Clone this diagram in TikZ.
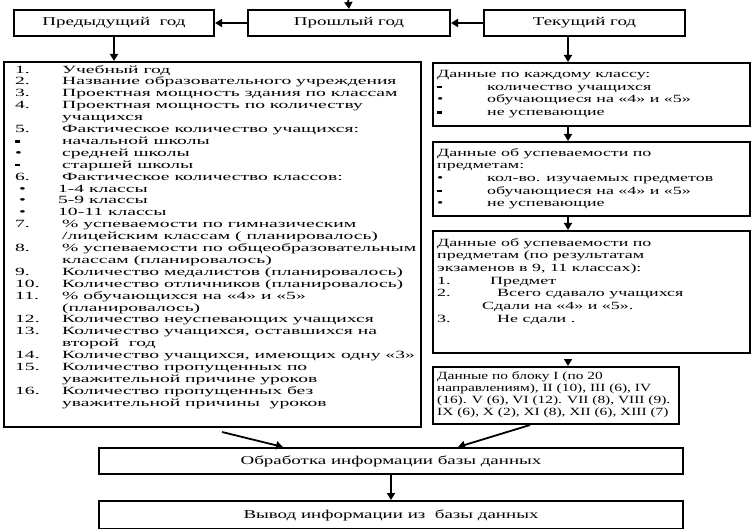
\documentclass[tikz,border=0pt]{standalone}
\usepackage{fontspec}
\setmainfont{Liberation Serif}[FakeStretch=1.58]
\newfontfamily\boxfnt{Liberation Serif}[FakeStretch=1.78]
\newfontfamily\rboxfnt{Liberation Serif}[FakeStretch=1.63]
\newfontfamily\nboxfnt{Liberation Serif}[FakeStretch=1.40]
\usetikzlibrary{arrows.meta}
\tikzset{
    box/.style={draw, rectangle, line width=2pt, inner sep=0pt,
    	font=\fontsize{12}{12.8}\selectfont}
}
\tikzset{
    txt/.style={inner sep=0pt, align=left, anchor=north west,
    	font=\rboxfnt\fontsize{11}{12.7}\selectfont}
}
\tikzset{
    conn/.style={line width=1.8pt, -{Triangle[length=7pt,width=8pt]}}
}
\newcommand{\bsq}{\rule[1.8pt]{5pt}{2.6pt}}
\newcommand{\bdot}{•}
\newcommand{\lnum}[1]{\makebox[47pt][l]{#1}}
\newcommand{\rnum}[2][50pt]{\makebox[#1][l]{#2}}

\begin{document}
\begin{tikzpicture}[x=1pt,y=-1pt]
  \useasboundingbox (0,0) rectangle (752,529);

  \node (prev) [box, anchor=north west, minimum width=200pt, minimum height=26pt] at (13,9) {Предыдущий\ \ год};
  
  \node (last) [box, anchor=north west, minimum width=202pt, minimum height=26pt] at (247,9) {Прошлый год};
  
  \node (cur) [box, anchor=north west, minimum width=201pt, minimum height=26pt] at (483,9) {Текущий год};
  
  \node (list) [box, anchor=north west, minimum width=417pt, minimum height=365pt] at (3,61) {};
  \node (listtxt) [txt, font=\boxfnt\fontsize{11}{11.9}\selectfont] at (15,65) {\lnum{1.}Учебный год\\
    \lnum{2.}Название образовательного учреждения\\
    \lnum{3.}Проектная мощность здания по классам\\
    \lnum{4.}Проектная мощность по количеству\\
    \lnum{}учащихся\\
    \lnum{5.}Фактическое количество учащихся:\\
    \lnum{\bsq}начальной школы\\
    \lnum{\bdot}средней школы\\
    \lnum{\bsq}старшей школы\\
    \lnum{6.}Фактическое количество классов:\\
    \hspace*{4pt}\makebox[39pt][l]{\bdot}1-4 классы\\
    \hspace*{4pt}\makebox[39pt][l]{\bdot}5-9 классы\\
    \hspace*{4pt}\makebox[39pt][l]{\bdot}10-11 классы\\
    \lnum{7.}\% успеваемости по гимназическим\\
    \lnum{}/лицейским классам ( планировалось)\\
    \lnum{8.}\% успеваемости по общеобразовательным\\
    \lnum{}классам (планировалось)\\
    \lnum{9.}Количество медалистов (планировалось)\\
    \lnum{10.}Количество отличников (планировалось)\\
    \lnum{11.}\% обучающихся на «4» и «5»\\
    \lnum{}(планировалось)\\
    \lnum{12.}Количество неуспевающих учащихся\\
    \lnum{13.}Количество учащихся, оставшихся на\\
    \lnum{}второй\ \ год\\
    \lnum{14.}Количество учащихся, имеющих одну «3»\\
    \lnum{15.}Количество пропущенных по\\
    \lnum{}уважительной причине уроков\\
    \lnum{16.}Количество пропущенных без\\
    \lnum{}уважительной причины\ \ уроков};
  
  \node (d1) [box, anchor=north west, minimum width=317pt, minimum height=63pt] at (432,62) {};
  \node (d1txt) [txt] at (437,70) {Данные по каждому классу:\\
    \rnum{\bsq}количество учащихся\\
    \rnum{\bdot}обучающиеся на «4» и «5»\\
    \rnum{\bsq}не успевающие};
  
  \node (d2) [box, anchor=north west, minimum width=317pt, minimum height=74pt] at (432,141) {};
  \node (d2txt) [txt] at (437,148) {Данные об успеваемости по\\
    предметам:\\
    \rnum{\bdot}кол-во. изучаемых предметов\\
    \rnum{\bsq}обучающиеся на «4» и «5»\\
    \rnum{\bdot}не успевающие};
  
  \node (d3) [box, anchor=north west, minimum width=317pt, minimum height=122pt] at (432,230) {};
  \node (d3txt) [txt] at (437,238) {Данные об успеваемости по\\
    предметам (по результатам\\
    экзаменов в 9, 11 классах):\\
    \rnum[53pt]{1.}Предмет\\
    \rnum[60pt]{2.}Всего сдавало учащихся\\
    \hspace*{45pt}Сдали на «4» и «5».\\
    \rnum[60pt]{3.}Не сдали .};
  
  \node (d4) [box, anchor=north west, minimum width=246pt, minimum height=57pt] at (432,366) {};
  \node (d4txt) [txt, font=\nboxfnt\fontsize{11}{12.3}\selectfont] at (437,371) {Данные по блоку I (по 20\\
    направлениям), II (10), III (6), IV\\
    (16). V (6), VI (12). VII (8), VIII (9).\\
    IX (6), X (2), XI (8), XII (6), XIII (7)};
  
  \node (proc) [box, anchor=north west, minimum width=584pt, minimum height=26pt] at (98,447) {Обработка информации базы данных};
  
  \node (out) [box, anchor=north west, minimum width=584pt, minimum height=28pt] at (98,500) {Вывод информации из\ \ базы данных};
  
  \coordinate (top) at (348,-2);
  \coordinate (rx) at (568,0);
  \coordinate (la) at (222,432);
  \coordinate (lb) at (283,0);
  \coordinate (ra) at (530,0);
  \coordinate (rb) at (458,0);
  
  \draw[conn] (top) -- (last.north);
  \draw[conn] (last.west) -- (prev.east);
  \draw[conn] (cur.west) -- (last.east);
  \draw[conn] (prev.south) -- (prev.south |- list.north);
  \draw[conn] (cur.south -| rx) -- (d1.north -| rx);
  \draw[conn] (d1.south -| rx) -- (d2.north -| rx);
  \draw[conn] (d2.south -| rx) -- (d3.north -| rx);
  \draw[conn] ([yshift=-8pt]d3.south -| rx) -- (d4.north -| rx);
  \draw[conn] (la) -- (proc.north -| lb);
  \draw[conn] (d4.south -| ra) -- (proc.north -| rb);
  \draw[conn] (proc.south) -- (out.north);
\end{tikzpicture}
\end{document}
